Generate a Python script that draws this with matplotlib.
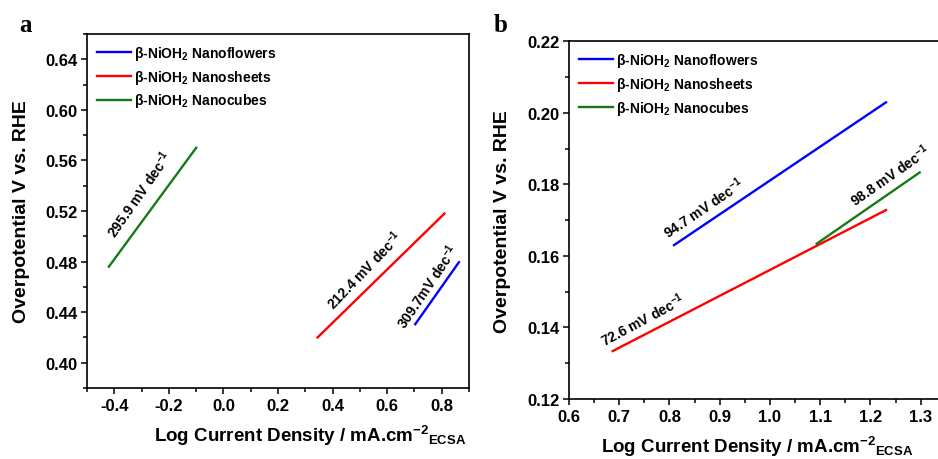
"""
Tafel plots for the three beta-NiOH2 morphologies (panels a and b)
"""

import matplotlib.pyplot as plt
from matplotlib.ticker import MultipleLocator

plt.rcParams['font.family'] = ['Liberation Sans', 'DejaVu Sans']
plt.rcParams['font.weight'] = 'bold'
plt.rcParams['mathtext.fontset'] = 'custom'
plt.rcParams['mathtext.bf'] = 'Liberation Sans:bold'
plt.rcParams['mathtext.rm'] = 'Liberation Sans:bold'
plt.rcParams['mathtext.default'] = 'bf'

names = ['β-NiOH$_2$ Nanoflowers', 'β-NiOH$_2$ Nanosheets', 'β-NiOH$_2$ Nanocubes']
colors = ['#0000ff', '#ff0000', '#167a16']

# panel a: end points of fitted Tafel lines (log j, V)
a_x = [[0.703, 0.863], [0.345, 0.81], [-0.42, -0.10]]
a_y = [[0.4305, 0.4795], [0.420, 0.518], [0.476, 0.570]]
a_labels = ['309.7mV dec$^{-1}$', '212.4 mV dec$^{-1}$', '295.9 mV dec$^{-1}$']
a_lab_pos = [(0.748, 0.461), (0.517, 0.474), (-0.307, 0.534)]
a_lab_rot = [56, 46, 55]

# panel b
b_x = [[0.809, 1.231], [0.687, 1.231], [1.093, 1.298]]
b_y = [[0.163, 0.2029], [0.1334, 0.1728], [0.1634, 0.1833]]
b_labels = ['94.7 mV dec$^{-1}$', '72.6 mV dec$^{-1}$', '98.8 mV dec$^{-1}$']
b_lab_pos = [(0.867, 0.1735), (0.747, 0.1425), (1.239, 0.1828)]
b_lab_rot = [34, 28, 35]

fig = plt.figure(figsize=(9.38, 4.6), dpi=100)
ax1 = fig.add_axes([0.0928, 0.1543, 0.4072, 0.7696])
ax2 = fig.add_axes([0.6066, 0.1304, 0.4017, 0.778])

def setup(ax, xs, ys, labels, pos, rot, ypad):
    for i in range(3):
        ax.plot(xs[i], ys[i], color=colors[i], lw=1.7, label=names[i])
    for i in range(3):
        ax.text(pos[i][0], pos[i][1], labels[i], rotation=rot[i], fontsize=10,
                fontweight='bold', ha='center', va='center', rotation_mode='anchor')
    ax.legend(loc='upper left', frameon=False, fontsize=10, handlelength=2.5,
              handletextpad=0.2, labelspacing=0.42, borderaxespad=0.3)
    ax.tick_params(which='both', direction='out', top=False, right=False,
                   labelsize=12, width=1.1, pad=3)
    ax.tick_params(which='major', length=4)
    ax.tick_params(which='minor', length=3)
    for lbl in ax.get_xticklabels() + ax.get_yticklabels():
        lbl.set_fontweight('bold')
    for s in ax.spines.values():
        s.set_linewidth(1.2)
    ax.set_xlabel('Log Current Density / mA.cm$^{-2}$$_{ECSA}$', fontsize=13.5,
                  fontweight='bold', labelpad=7)
    ax.set_ylabel('Overpotential V vs. RHE', fontsize=14, fontweight='bold', labelpad=ypad)

setup(ax1, a_x, a_y, a_labels, a_lab_pos, a_lab_rot, 10.5)
ax1.set_xlim(-0.5, 0.9)
ax1.set_ylim(0.38, 0.66)
ax1.xaxis.set_major_locator(MultipleLocator(0.2))
ax1.xaxis.set_minor_locator(MultipleLocator(0.1))
ax1.yaxis.set_major_locator(MultipleLocator(0.04))
ax1.yaxis.set_minor_locator(MultipleLocator(0.02))
ax1.xaxis.set_major_formatter(plt.FuncFormatter(lambda v, p: f'{v:.1f}'))
ax1.yaxis.set_major_formatter(plt.FuncFormatter(lambda v, p: f'{v:.2f}'))
ax1.xaxis.label.set_x(0.585)  # label sits right of centre in the original

setup(ax2, b_x, b_y, b_labels, b_lab_pos, b_lab_rot, 11.5)
ax2.set_xlim(0.6, 1.35)
ax2.set_ylim(0.12, 0.22)
ax2.xaxis.set_major_locator(MultipleLocator(0.1))
ax2.xaxis.set_minor_locator(MultipleLocator(0.05))
ax2.yaxis.set_major_locator(MultipleLocator(0.02))
ax2.yaxis.set_minor_locator(MultipleLocator(0.01))
ax2.xaxis.set_major_formatter(plt.FuncFormatter(lambda v, p: f'{v:.1f}'))
ax2.yaxis.set_major_formatter(plt.FuncFormatter(lambda v, p: f'{v:.2f}'))

fig.text(0.021, 0.945, 'a', fontsize=18, fontweight='bold', family='Liberation Serif', va='center')
fig.text(0.526, 0.945, 'b', fontsize=18, fontweight='bold', family='Liberation Serif', va='center')

fig.savefig('out.png', dpi=100)
